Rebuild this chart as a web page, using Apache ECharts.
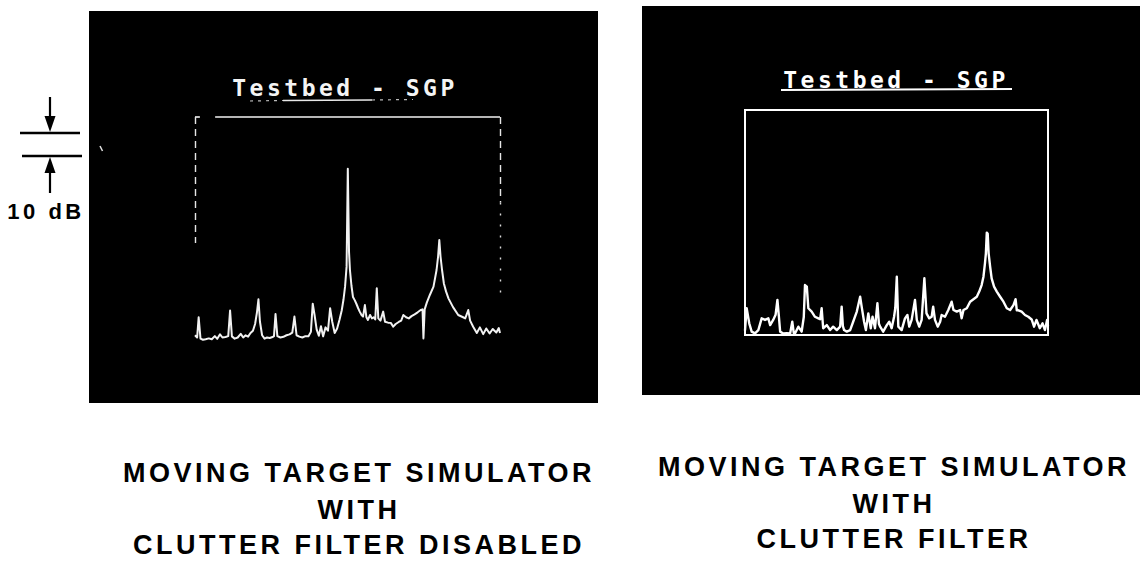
<!DOCTYPE html>
<html>
<head>
<meta charset="utf-8">
<script src="https://cdn.jsdelivr.net/npm/echarts@6/dist/echarts.min.js"></script>
<style>
  html, body { margin: 0; padding: 0; background: #ffffff; }
  #chart { width: 1140px; height: 574px; }
  #chart svg text { letter-spacing: 3.5px; }
</style>
</head>
<body>
<div id="chart"></div>
<script>
// Spectrum traces: [frequency (% of displayed span), level (dB above display floor)]
const leftTrace = [
  [0,3],[0.7,2],[1.2,11],[1.8,1.5],[2.6,1],[3.5,1.2],[4.5,1.6],[5.5,1.2],[6.5,2.6],[7.3,1.4],
  [8.2,3.4],[9,2],[10,2.2],[10.9,2.6],[11.5,14],[12.1,2.5],[13,1.5],[14,2],[15,3.6],[15.8,2],
  [16.6,3],[17.4,2.4],[18.2,4],[19,5],[19.7,8],[20.3,13],[20.8,19],[21.3,9],[22,3],[22.8,1.5],
  [23.6,2],[24.5,1.8],[25.4,2.2],[25.9,2.6],[26.4,12.4],[27,2.6],[28,2],[29,2.3],[30,3],[31,3.4],
  [31.9,4.2],[32.6,11.3],[33.3,3],[34.2,2.4],[35.2,2],[36.2,2.6],[37.2,2.6],[38,4.5],[38.6,17],[39.2,12],
  [39.9,5.5],[40.6,2.8],[41.3,7],[42,2.5],[42.8,6.5],[43.6,5],[44.3,15],[45,9],[45.8,4],[46.6,6],
  [47.4,10],[48.1,14],[48.7,19],[49.2,24.6],[49.7,33.5],[50.1,77],[50.5,40],[50.8,32],[51.3,25],[51.8,20],
  [52.4,18.5],[52.9,17],[53.5,15],[54,13.5],[54.6,12],[55.1,11.3],[55.7,16.4],[56.2,11],[56.7,9.8],[57.4,12],
  [58,10.5],[58.6,11],[59.1,10],[59.6,23.9],[60.1,10.5],[60.8,9.5],[61.7,13.5],[62.3,9],[63.3,8.6],[64.2,8.5],
  [65,6.8],[65.8,8],[66.8,8.9],[67.6,9.5],[68.3,12],[69.2,11],[70.1,10.5],[71,11.5],[72,12.3],[73,13.2],
  [74,14.2],[74.6,14.5],[74.9,1.6],[75.3,14.5],[76,17.5],[77,20.9],[78.2,24.6],[79.2,32],[79.7,38],[80.1,45.3],
  [80.5,38],[81,32],[81.6,26],[82.3,22.5],[83.1,19.4],[84.6,15.5],[86.3,12],[87.9,11],[88.6,10.5],[89.6,14.2],
  [90.2,9.5],[91.2,6.8],[92.4,4],[93.4,6.5],[94.5,3.5],[95.5,6],[96.6,3.8],[97.6,5.8],[98.8,4.2],[99.6,6.2],
  [100,4]
];

const rightTrace = [
  [0,2],[0.55,11.9],[1.4,5.2],[2.2,1.5],[3.3,0.7],[4.4,2.2],[5.5,7.4],[6.6,6.7],[7.7,7.4],[8.3,4.4],
  [9.3,6.7],[10.1,9],[10.7,15.6],[11.2,8],[11.6,1.5],[12.6,0.7],[13.8,0.8],[14.9,0.7],[15.6,5.9],[16.1,0.8],
  [16.5,0.7],[17.6,3.7],[18.7,1.5],[19.4,8],[19.8,22.2],[20.4,21.5],[20.9,11.9],[22,10.4],[23.1,8.1],[24.2,7.4],
  [24.8,7],[25.3,11.9],[25.8,3],[27,4.4],[28.1,2.2],[29.1,3.7],[30.3,2.2],[31.4,3.7],[31.9,12.6],[32.3,4],
  [32.7,2.2],[33.6,1.5],[34.7,2.2],[35.7,5.9],[36.9,10.4],[38,17],[38.5,12.6],[39.3,5.9],[39.9,2.2],[40.7,9.6],
  [41.5,3],[42.1,8.1],[42.9,3],[43.7,14.1],[44.2,5],[44.6,3.7],[45.6,1.5],[46.8,4.4],[47.6,5.9],[48.4,3],
  [49.2,8.1],[49.6,12],[50.1,25.9],[50.6,3.7],[51.7,2.2],[52.8,7.4],[53.6,8.9],[54.2,3.7],[55,6.7],[56.1,15.6],
  [56.7,6.7],[57.5,3.7],[58.3,6.7],[59.2,25.2],[59.9,9.6],[60.8,7.4],[61.6,8.1],[62.1,12.6],[62.7,6.7],[63.6,3.7],
  [64.4,5.9],[64.9,8.9],[66,8.1],[67.1,11.1],[68.2,14.8],[68.8,11.1],[69.9,10.4],[71,11.1],[71.5,7.4],[72.1,11.1],
  [73.2,11.9],[74.3,14.8],[75.4,15.9],[76.5,17],[77.3,19.3],[78.1,22.2],[78.7,25.9],[79.2,31.9],[79.5,36.3],[79.8,45.5],
  [80.1,45],[80.4,36.3],[80.9,30.4],[81.4,25.2],[82.2,21.5],[83.1,19.3],[84.2,17],[85.3,14.8],[86.4,11.9],[87.5,11.1],
  [88.6,13.3],[89.3,15.9],[89.7,11],[90,11.1],[91.3,10.4],[92.4,8.9],[93.5,8.1],[94.6,6.9],[95.4,3.7],[96.2,6.7],
  [97.3,3],[98.2,5.2],[99,2.2],[99.7,6.7],[100,4]
];

const freqRange = [0, 100];
const levelRange = [0, 100];
const screenTitle = 'Testbed - SGP';
const leftCaption = ['MOVING TARGET SIMULATOR', 'WITH', 'CLUTTER FILTER DISABLED'];
const rightCaption = ['MOVING TARGET SIMULATOR', 'WITH', 'CLUTTER FILTER'];
const scaleLabel = '10 dB';

const chart = echarts.init(document.getElementById('chart'), null, { renderer: 'svg' });

const titleFont = { fontFamily: 'DejaVu Sans Mono', fontWeight: 'bold', fontSize: 23 };
const captionFont = { fontFamily: 'Liberation Sans, Arial, sans-serif', fontWeight: 'bold', fontSize: 27 };

function textEl(text, x, y, font, fill) {
  return {
    type: 'text', x: x, y: y, z: 10, silent: true,
    style: Object.assign({ text: text, x: 0, y: 0, fill: fill, align: 'center', verticalAlign: 'middle' }, font)
  };
}
function lineEl(x1, y1, x2, y2, stroke, width, dash) {
  return {
    type: 'line', z: 10, silent: true,
    shape: { x1: x1, y1: y1, x2: x2, y2: y2 },
    style: { stroke: stroke, lineWidth: width, lineDash: dash || null }
  };
}

const frameSolid = { color: '#f2f2f2', width: 1.6, type: 'solid' };
const frameDashed = { color: '#e6e6e6', width: 1.4, type: [7, 5] };
const frameDotted = { color: '#d8d8d8', width: 1.4, type: [2, 9] };

const graphics = [
  // CRT screens
  { type: 'rect', z: -100, silent: true, shape: { x: 89, y: 11, width: 509, height: 392 }, style: { fill: '#000' } },
  { type: 'rect', z: -100, silent: true, shape: { x: 642, y: 6, width: 498, height: 389 }, style: { fill: '#000' } },
  // screen headings
  textEl(screenTitle, 345, 88, titleFont, '#f4f4f4'),
  lineEl(283, 100.5, 372, 100, '#e8e8e8', 1.6),
  lineEl(250, 101, 283, 100.5, '#bbbbbb', 1.2, [3, 5]),
  lineEl(372, 100, 413, 99.5, '#bbbbbb', 1.2, [3, 5]),
  textEl(screenTitle, 896, 79.5, titleFont, '#ffffff'),
  lineEl(781, 90, 1012, 89, '#ffffff', 2),
  // speck on the left screen
  lineEl(100, 146, 102.5, 151, '#dddddd', 1.5),
  // 10 dB scale marker
  lineEl(20, 133, 80, 133, '#000', 2.6),
  lineEl(22, 156, 82, 156, '#000', 2.6),
  lineEl(50, 97, 50, 119, '#000', 2.2),
  { type: 'polygon', z: 10, silent: true, shape: { points: [[44.5, 116], [55.5, 116], [50, 132]] }, style: { fill: '#000' } },
  lineEl(50, 170, 50, 193, '#000', 2.2),
  { type: 'polygon', z: 10, silent: true, shape: { points: [[44.5, 173], [55.5, 173], [50, 157]] }, style: { fill: '#000' } },
  textEl(scaleLabel, 46, 211, { fontFamily: 'Liberation Sans, Arial, sans-serif', fontWeight: 'bold', fontSize: 22 }, '#000')
];

const leftCaptionY = [472.5, 509.5, 544.5];
const rightCaptionY = [467, 503.5, 539];
leftCaption.forEach(function (t, i) { graphics.push(textEl(t, 359, leftCaptionY[i], captionFont, '#000')); });
rightCaption.forEach(function (t, i) { graphics.push(textEl(t, 894, rightCaptionY[i], captionFont, '#000')); });

function hiddenX(gridIndex) {
  return { type: 'value', gridIndex: gridIndex, min: freqRange[0], max: freqRange[1], show: false };
}
function hiddenY(gridIndex) {
  return { type: 'value', gridIndex: gridIndex, min: levelRange[0], max: levelRange[1], show: false };
}

const option = {
  backgroundColor: '#ffffff',
  animation: false,
  grid: [
    { left: 195, top: 117, width: 305, height: 225, show: false },
    { left: 745, top: 110, width: 303, height: 225, show: true, borderColor: '#ffffff', borderWidth: 2, backgroundColor: 'transparent' }
  ],
  xAxis: [hiddenX(0), hiddenX(1)],
  yAxis: [hiddenY(0), hiddenY(1)],
  graphic: graphics,
  series: [
    {
      name: 'Clutter filter disabled',
      type: 'line', xAxisIndex: 0, yAxisIndex: 0,
      data: leftTrace, showSymbol: false, symbol: 'none', silent: true,
      lineStyle: { color: '#f2f2f2', width: 2, join: 'round' },
      markLine: {
        silent: true, symbol: 'none', label: { show: false },
        data: [
          [{ coord: [0, 100], lineStyle: frameSolid }, { coord: [1.6, 100] }],
          [{ coord: [6.6, 100], lineStyle: frameSolid }, { coord: [100, 100] }],
          [{ coord: [0, 100], lineStyle: frameDashed }, { coord: [0, 44] }],
          [{ coord: [100, 100], lineStyle: frameDashed }, { coord: [100, 62] }],
          [{ coord: [100, 62], lineStyle: frameDotted }, { coord: [100, 22] }]
        ]
      }
    },
    {
      name: 'Clutter filter',
      type: 'line', xAxisIndex: 1, yAxisIndex: 1,
      data: rightTrace, showSymbol: false, symbol: 'none', silent: true,
      lineStyle: { color: '#ffffff', width: 2.4, join: 'round' }
    }
  ]
};

chart.setOption(option);
</script>
</body>
</html>
